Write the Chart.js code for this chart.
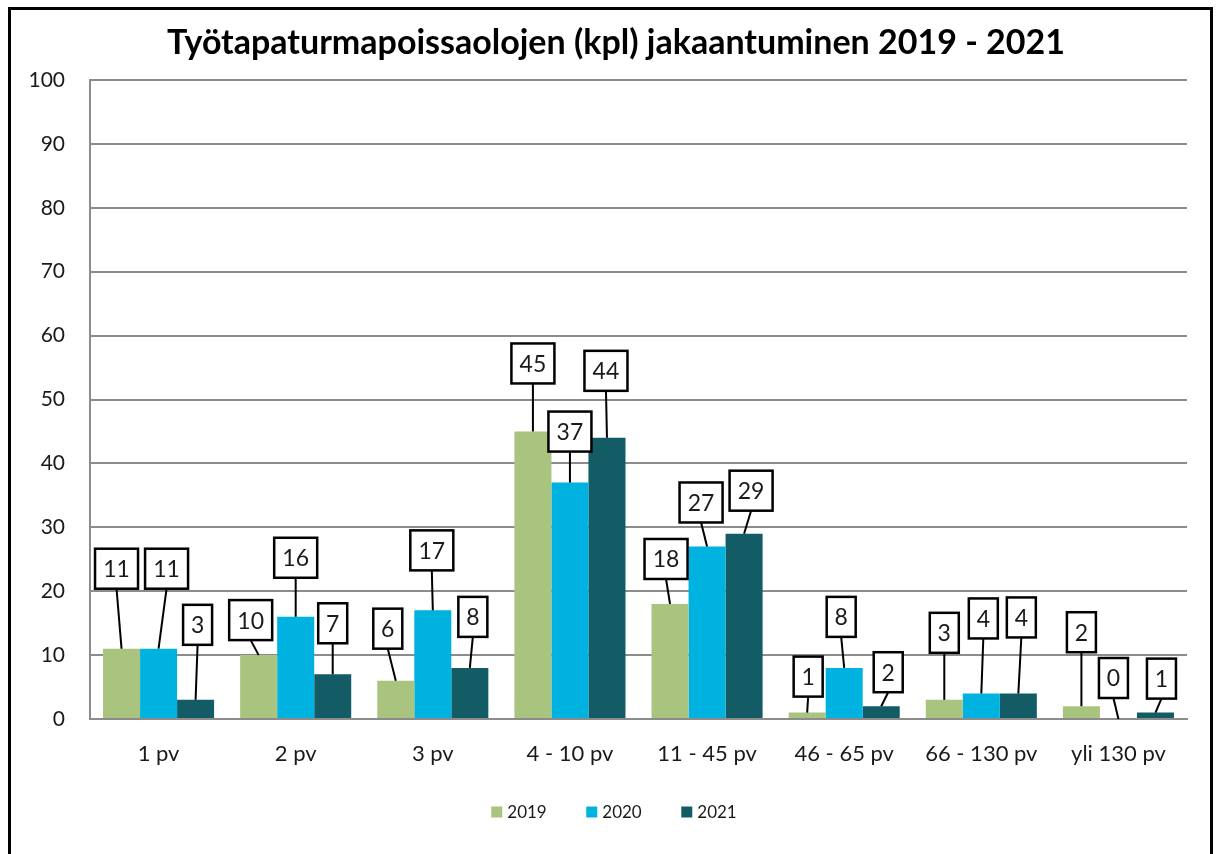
<!DOCTYPE html>
<html>
<head>
<meta charset="utf-8">
<script src="https://cdn.jsdelivr.net/npm/chart.js@4/dist/chart.umd.min.js"></script>
<style>
  html, body { margin: 0; padding: 0; background: #fff; }
  #wrap { position: absolute; left: 0; top: 0; width: 1218px; height: 854px; }
  #frame { position: absolute; left: 8px; top: 7px; width: 1199px; height: 900px;
           border: 3px solid #000; border-bottom: none; pointer-events: none; }
</style>
</head>
<body>
<div id="wrap"><canvas id="c"></canvas></div>
<div id="frame"></div>
<script>
const categories = ['1 pv', '2 pv', '3 pv', '4 - 10 pv', '11 - 45 pv', '46 - 65 pv', '66 - 130 pv', 'yli 130 pv'];
const seriesNames = ['2019', '2020', '2021'];
const values2019 = [11, 10, 6, 45, 18, 1, 3, 2];
const values2020 = [11, 16, 17, 37, 27, 8, 4, 0];
const values2021 = [3, 7, 8, 44, 29, 2, 4, 1];
const yMin = 0;
const yMax = 100;
const yStep = 10;
const titleText = 'Työtapaturmapoissaolojen (kpl) jakaantuminen 2019 - 2021';

const colors = ['#A9C47F', '#00B2E0', '#135C66'];
const FONT = 'Lato, "Noto Sans", sans-serif';

// callout placement (layout only): horizontal shift from bar centre, gap between box bottom and bar top
const calloutDx = [
  [-5, -8, -8, 0, -4, 1, 0, 0],
  [8, 0, -1, 0, -6, -3, 2, -5],
  [2, 0, 3, -1, 7, 7, 3, 6]
];
const calloutGap = [
  [60, 15, 32, 48, 25, 16, 47, 54],
  [60, 39, 40, 31, 24, 31, 55, 21],
  [55, 31, 31, 47, 23, 14, 56, 14]
];

const calloutPlugin = {
  id: 'callouts',
  afterDatasetsDraw(chart) {
    const ctx = chart.ctx;
    ctx.save();
    ctx.font = '23px ' + FONT;
    ctx.textAlign = 'center';
    ctx.textBaseline = 'middle';
    chart.data.datasets.forEach((ds, di) => {
      const meta = chart.getDatasetMeta(di);
      meta.data.forEach((bar, i) => {
        const txt = String(ds.data[i]);
        const tw = ctx.measureText(txt).width;
        const w = Math.round(tw + 16);
        const h = 40;
        const cx = bar.x + calloutDx[di][i];
        const bottom = bar.y - calloutGap[di][i];
        const top = bottom - h;
        ctx.strokeStyle = '#000';
        ctx.lineWidth = 2;
        ctx.beginPath();
        ctx.moveTo(cx, bottom);
        ctx.lineTo(bar.x, bar.y);
        ctx.stroke();
        ctx.fillStyle = '#fff';
        ctx.fillRect(cx - w / 2, top, w, h);
        ctx.lineWidth = 2.5;
        ctx.strokeRect(cx - w / 2, top, w, h);
        ctx.fillStyle = '#1a1a1a';
        ctx.fillText(txt, cx, top + h / 2 + 1);
      });
    });
    ctx.restore();
  }
};

// title and legend drawn in the page frame (layout positions)
const frameTextPlugin = {
  id: 'frameText',
  afterDraw(chart) {
    const ctx = chart.ctx;
    ctx.save();
    ctx.font = 'bold 34px ' + FONT;
    ctx.fillStyle = '#000';
    ctx.textAlign = 'center';
    ctx.textBaseline = 'alphabetic';
    ctx.fillText(titleText, 616, 54);
    ctx.font = '17px ' + FONT;
    ctx.textAlign = 'left';
    ctx.textBaseline = 'middle';
    const step = 95, box = 11, cy = 812;
    const n = chart.data.datasets.length;
    const lastW = 11 + 5 + ctx.measureText(chart.data.datasets[n - 1].label).width;
    const total = step * (n - 1) + lastW;
    let x = 614 - total / 2;
    chart.data.datasets.forEach(ds => {
      ctx.fillStyle = ds.backgroundColor;
      ctx.fillRect(x, cy - box / 2, box, box);
      ctx.fillStyle = '#1a1a1a';
      ctx.fillText(ds.label, x + box + 5, cy + 1);
      x += step;
    });
    ctx.restore();
  }
};

new Chart(document.getElementById('c'), {
  type: 'bar',
  data: {
    labels: categories,
    datasets: [
      { label: seriesNames[0], data: values2019, backgroundColor: colors[0] },
      { label: seriesNames[1], data: values2020, backgroundColor: colors[1] },
      { label: seriesNames[2], data: values2021, backgroundColor: colors[2] }
    ]
  },
  options: {
    responsive: true,
    maintainAspectRatio: false,
    animation: false,
    layout: { padding: { left: 0, right: 31, top: 80, bottom: 75 } },
    datasets: { bar: { categoryPercentage: 0.81, barPercentage: 1.0, borderWidth: 0 } },
    scales: {
      x: {
        grid: { display: false, drawTicks: false },
        border: { display: true, color: '#8c8c8c', width: 2 },
        ticks: { color: '#1a1a1a', font: { family: FONT, size: 22 }, padding: 22, maxRotation: 0, autoSkip: false },
        afterFit(scale) { scale.height = 60; }
      },
      y: {
        min: yMin, max: yMax,
        grid: { color: '#8c8c8c', lineWidth: 2, drawTicks: false },
        border: { display: true, color: '#8c8c8c', width: 2 },
        ticks: { stepSize: yStep, color: '#1a1a1a', font: { family: FONT, size: 21 }, padding: 25 },
        afterFit(scale) { scale.width = 90; }
      }
    },
    plugins: {
      title: { display: false },
      legend: { display: false },
      tooltip: { enabled: false }
    }
  },
  plugins: [calloutPlugin, frameTextPlugin]
});
</script>
</body>
</html>
